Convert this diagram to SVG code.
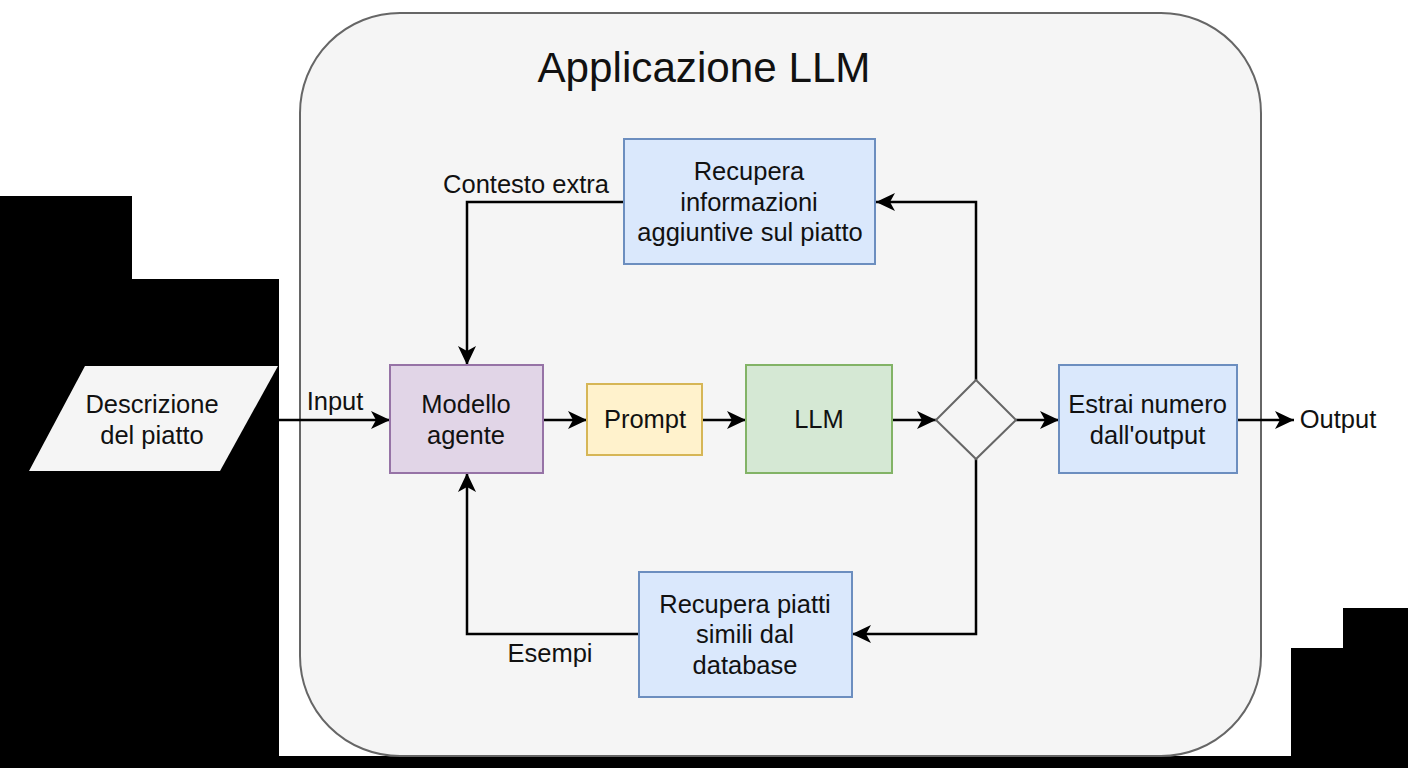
<svg xmlns="http://www.w3.org/2000/svg" width="1408" height="768" viewBox="0 0 1408 768">
<style>
text{font-family:"Liberation Sans",Arial,sans-serif;font-size:25.5px;fill:#111;text-anchor:middle}
.box{stroke-width:2}
.blue{fill:#dae8fc;stroke:#6c8ebf}
.c{fill:none;stroke:#000;stroke-width:2.5}
</style>
<defs>
<marker id="arrow" markerUnits="userSpaceOnUse" markerWidth="20" markerHeight="20" refX="19" refY="10" orient="auto">
<path d="M0 1 L19 10 L0 19 L5 10Z" fill="#000"/>
</marker>
</defs>
<rect width="1408" height="768" fill="#fff"/>
<path id="background-mask" d="M0 196H132V279H279V756H1291V648H1343V608H1408V768H0Z" fill="#000"/>
<g id="app">
<rect x="300" y="13" width="961" height="743" rx="100" ry="100" fill="#f5f5f5" stroke="#666" stroke-width="2"/>
<text x="704" y="82" style="font-size:42.2px">Applicazione LLM</text>
</g>
<g id="connectors">
<path class="c" d="M279 420H390" marker-end="url(#arrow)"/>
<path class="c" d="M544 420H587" marker-end="url(#arrow)"/>
<path class="c" d="M702 420H746" marker-end="url(#arrow)"/>
<path class="c" d="M892 420H936" marker-end="url(#arrow)"/>
<path class="c" d="M1016 420H1059" marker-end="url(#arrow)"/>
<path class="c" d="M1237 420H1294" marker-end="url(#arrow)"/>
<path class="c" d="M976 380V202H876" marker-end="url(#arrow)"/>
<path class="c" d="M976 459V634H852" marker-end="url(#arrow)"/>
<path class="c" d="M623 202H467V365" marker-end="url(#arrow)"/>
<path class="c" d="M639 634H467V473" marker-end="url(#arrow)"/>
<text x="526" y="193">Contesto extra</text>
<text x="335" y="410">Input</text>
<text x="550" y="662">Esempi</text>
</g>
<g id="input">
<path d="M85 366H278L220 471H29Z" fill="#f5f5f5"/>
<text x="152" y="413">Descrizione</text>
<text x="152" y="444">del piatto</text>
</g>
<g id="agent">
<rect class="box" x="390" y="365" width="153" height="108" fill="#e1d5e7" stroke="#9673a6"/>
<text x="466" y="413">Modello</text>
<text x="466" y="444">agente</text>
</g>
<g id="prompt">
<rect class="box" x="587" y="384" width="115" height="71" fill="#fff2cc" stroke="#d6b656"/>
<text x="645" y="428">Prompt</text>
</g>
<g id="llm">
<rect class="box" x="746" y="365" width="146" height="108" fill="#d5e8d4" stroke="#82b366"/>
<text x="819" y="428">LLM</text>
</g>
<g id="decision">
<path d="M976 380L1016 420L976 459L936 420Z" fill="#f5f5f5" stroke="#666" stroke-width="2"/>
</g>
<g id="extract">
<rect class="box blue" x="1059" y="365" width="178" height="108"/>
<text x="1147.500" y="413">Estrai numero</text>
<text x="1147.500" y="444">dall'output</text>
</g>
<g id="output">
<text x="1338" y="428">Output</text>
</g>
<g id="retrieve-info">
<rect class="box blue" x="624" y="139" width="251" height="125"/>
<text x="749" y="180">Recupera</text>
<text x="749" y="211">informazioni</text>
<text x="750" y="241">aggiuntive sul piatto</text>
</g>
<g id="retrieve-similar">
<rect class="box blue" x="639" y="572" width="213" height="125"/>
<text x="745" y="613">Recupera piatti</text>
<text x="745" y="643">simili dal</text>
<text x="745" y="674">database</text>
</g>
</svg>
